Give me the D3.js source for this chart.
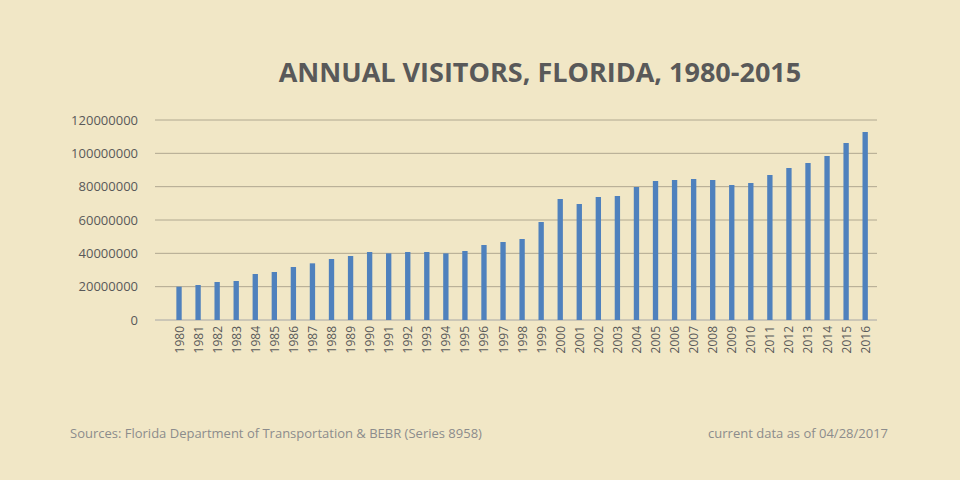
<!DOCTYPE html>
<html lang="en">
<head>
<meta charset="UTF-8">
<title>Annual Visitors, Florida</title>
<script src="https://d3js.org/d3.v7.min.js"></script>
<style>
  body { margin: 0; background: #f1e7c6; }
  text { font-family: "Open Sans", "Noto Sans", Arial, sans-serif; }
</style>
</head>
<body>
<svg width="960" height="480"></svg>
<script>
    const years = d3.range(1980, 2017).map(String);
    const visitors = [
        20.0, 21.0, 22.8, 23.4, 27.6, 28.8, 31.8, 34.0, 36.6, 38.4,
        40.8, 40.0, 40.8, 40.8, 40.0, 41.4, 45.0, 46.8, 48.6, 58.8,
        72.6, 69.6, 73.8, 74.4, 79.8, 83.4, 84.0, 84.6, 84.0, 81.0,
        82.2, 87.0, 91.2, 94.2, 98.4, 106.2, 112.8
    ].map(v => v * 1e6);
    const yTicks = [0, 20000000, 40000000, 60000000, 80000000, 100000000, 120000000];

    const svg = d3.select("svg");
    svg.append("rect").attr("width", 960).attr("height", 480).attr("fill", "#f1e7c6");

    const x = d3.scaleBand().domain(years).range([169.5, 874.7])
        .paddingInner(0.72).paddingOuter(0.36);
    const y = d3.scaleLinear().domain([0, 120000000]).range([320, 120]);

    // gridlines
    svg.append("g").selectAll("line")
        .data(yTicks)
        .enter().append("line")
        .attr("x1", 155).attr("x2", 877)
        .attr("y1", d => y(d)).attr("y2", d => y(d))
        .attr("stroke", d => d === 0 ? "#a6a6a6" : "#b0a890")
        .attr("stroke-width", 1);

    svg.append("g").selectAll("text")
        .data(yTicks)
        .enter().append("text")
        .attr("x", 138).attr("y", d => y(d) + 4.5)
        .attr("text-anchor", "end")
        .attr("font-size", 13).attr("fill", "#595959")
        .text(d => d);

    svg.append("g").selectAll("rect")
        .data(visitors)
        .enter().append("rect")
        .attr("x", (d, i) => x(years[i]))
        .attr("width", x.bandwidth())
        .attr("y", d => y(d))
        .attr("height", d => 320 - y(d))
        .attr("fill", "#4f81bd");

    svg.append("g").selectAll("text")
        .data(years)
        .enter().append("text")
        .attr("transform", d => `translate(${x(d) + x.bandwidth() / 2 + 4.5},326) rotate(-90)`)
        .attr("text-anchor", "end")
        .attr("font-size", 12).attr("fill", "#595959")
        .text(d => d);

    svg.append("text")
        .attr("x", 540).attr("y", 82)
        .attr("text-anchor", "middle")
        .attr("font-size", 27).attr("font-weight", "bold").attr("fill", "#595959")
        .text("ANNUAL VISITORS, FLORIDA, 1980-2015");

    svg.append("text")
        .attr("x", 70).attr("y", 438)
        .attr("font-size", 13).attr("fill", "#8c8c8c")
        .text("Sources: Florida Department of Transportation & BEBR (Series 8958)");

    svg.append("text")
        .attr("x", 888).attr("y", 438)
        .attr("text-anchor", "end")
        .attr("font-size", 13).attr("fill", "#8c8c8c")
        .text("current data as of 04/28/2017");
</script>
</body>
</html>
